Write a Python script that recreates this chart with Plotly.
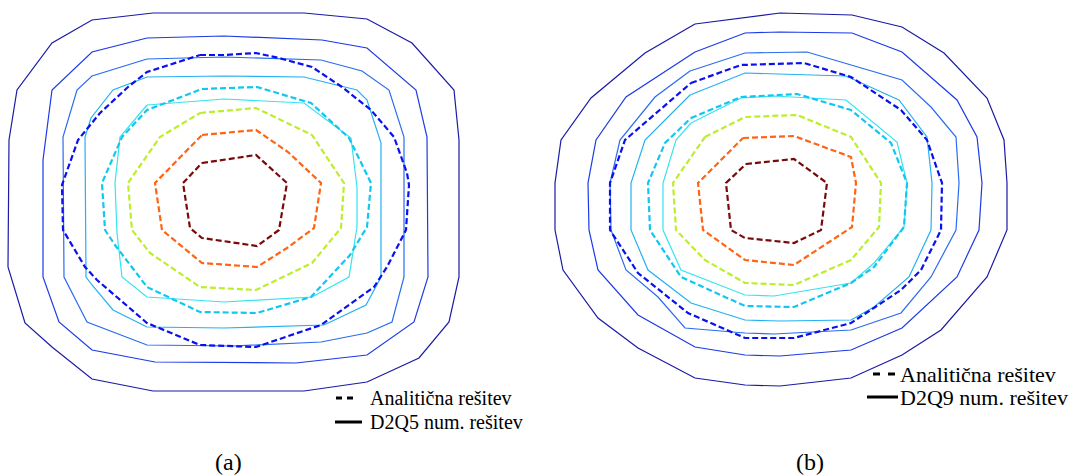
import plotly.graph_objects as go

# ---------------- panel (a): D2Q5 numerical (solid) ----------------
a_num_1 = [(153,13),(304,13),(367,19),(412,43),(454,90),(459,140),(459,277),(449,322),(419,358),(367,382),(304,391),(153,391),(92,379),(52,347),(25,323),(11,277),(8,267),(9,140),(17,90),(52,43),(92,20)]
a_num_2 = [(147,38),(224,36),(322,40),(367,48),(416,90),(427,137),(428,277),(414,322),(367,355),(296,363),(155,362),(92,350),(59,322),(43,277),(43,160),(52,90),(92,52)]
a_num_3 = [(147,59),(224,57),(321,60),(362,71),(389,90),(404,137),(404,277),(392,322),(367,333),(321,342),(233,346),(147,345),(87,322),(64,277),(63,137),(77,90),(92,76)]
a_num_4 = [(147,77),(224,76),(304,77),(357,90),(367,100),(381,143),(381,277),(366,305),(324,325),(224,328),(147,327),(113,310),(92,285),(86,277),(85,137),(91,118),(113,90)]
a_num_5 = [(147,105),(224,99),(304,103),(351,138),(357,187),(357,227),(349,277),(312,297),(224,302),(147,297),(122,277),(117,233),(115,183),(120,137)]

# ---------------- panel (a): analytical (dashed) ----------------
a_ana_1 = [(200,55),(224,55),(256,53),(279,58),(312,67),(342,87),(371,110),(394,137),(407,173),(409,185),(406,230),(387,267),(374,287),(321,325),(256,347),(200,345),(147,323),(97,280),(85,267),(63,230),(62,185),(78,140),(100,113),(128,87),(147,72)]
a_ana_2 = [(202,89),(257,87),(311,103),(349,138),(371,183),(367,227),(350,255),(311,297),(257,313),(200,312),(147,287),(115,245),(105,230),(102,183),(122,137),(147,110)]
a_ana_3 = [(200,113),(256,108),(312,135),(344,183),(341,228),(312,263),(256,290),(200,287),(150,253),(132,230),(128,183),(160,137)]
a_ana_4 = [(202,135),(256,130),(288,152),(321,183),(314,228),(287,248),(257,267),(202,263),(162,230),(155,183)]
a_ana_5 = [(202,163),(256,155),(287,183),(279,230),(257,246),(202,238),(190,228),(183,183)]

# ---------------- panel (b): D2Q9 numerical (solid) ----------------
b_num_1 = [(695,24),(780,13),(852,15),(902,27),(944,53),(987,98),(1004,140),(1007,183),(1007,230),(987,277),(941,330),(902,355),(851,378),(780,386),(745,385),(695,378),(638,348),(598,318),(563,270),(555,230),(555,183),(561,140),(591,98),(645,53)]
b_num_2 = [(695,52),(745,33),(780,32),(852,33),(902,52),(957,100),(977,137),(982,183),(979,230),(957,277),(902,328),(851,350),(780,356),(745,355),(695,347),(638,315),(598,270),(589,230),(588,183),(596,140),(626,97)]
b_num_3 = [(690,71),(745,53),(807,52),(902,80),(931,107),(956,137),(959,183),(956,230),(931,277),(901,313),(851,330),(774,334),(745,333),(685,328),(658,297),(626,270),(611,230),(610,183),(620,140),(655,97)]
b_num_4 = [(690,95),(745,73),(846,76),(899,100),(927,137),(932,183),(931,230),(909,277),(874,307),(851,320),(780,321),(745,320),(691,303),(648,270),(631,230),(631,183),(645,140)]
b_num_5 = [(691,123),(741,98),(774,96),(846,100),(897,142),(907,183),(904,227),(874,263),(851,283),(774,296),(745,295),(681,270),(663,230),(663,183),(676,140)]

# ---------------- panel (b): analytical (dashed) ----------------
b_ana_1 = [(691,83),(741,65),(804,63),(851,77),(901,110),(927,140),(942,183),(941,230),(921,270),(901,290),(851,323),(794,338),(745,338),(688,313),(638,273),(610,230),(610,183),(625,140)]
b_ana_2 = [(691,118),(741,97),(797,94),(851,110),(891,143),(907,183),(904,227),(874,267),(851,283),(794,307),(745,306),(681,277),(650,230),(648,183),(665,143)]
b_ana_3 = [(705,137),(745,117),(797,115),(851,137),(881,183),(879,227),(851,260),(794,285),(745,283),(705,260),(676,230),(673,183)]
b_ana_4 = [(743,138),(794,136),(851,157),(856,183),(852,227),(822,247),(794,265),(745,260),(703,230),(698,183)]
b_ana_5 = [(746,164),(794,159),(827,183),(821,230),(794,243),(745,238),(731,230),(726,183)]

num_colors = ["#1a1aa6", "#1c3ae6", "#2a6cf0", "#24b0f4", "#36e4f0"]
ana_colors = ["#0a10ee", "#12c6f2", "#bcee2c", "#ff6414", "#7a0a0a"]

panel_labels = ["(a)", "(b)"]
legend_analytic = "Analitična rešitev"
legend_numeric = ["D2Q5 num. rešitev", "D2Q9 num. rešitev"]

fig = go.Figure()

def add_poly(pts, color, dashed):
    xs = [p[0] for p in pts] + [pts[0][0]]
    ys = [p[1] for p in pts] + [pts[0][1]]
    fig.add_trace(go.Scatter(
        x=xs, y=ys, mode="lines", hoverinfo="skip", showlegend=False,
        line=dict(color=color, width=2.2 if dashed else 1.2,
                  dash="6px,3px" if dashed else "solid")))

for nums, anas in [([a_num_1, a_num_2, a_num_3, a_num_4, a_num_5],
                    [a_ana_1, a_ana_2, a_ana_3, a_ana_4, a_ana_5]),
                   ([b_num_1, b_num_2, b_num_3, b_num_4, b_num_5],
                    [b_ana_1, b_ana_2, b_ana_3, b_ana_4, b_ana_5])]:
    for pts, c in zip(nums, num_colors):
        add_poly(pts, c, False)
    for pts, c in zip(anas, ana_colors):
        add_poly(pts, c, True)

serif = "Liberation Serif"
ann = []
shapes = []
# legend (a)
shapes.append(dict(type="line", x0=336, x1=354, y0=398, y1=398, xref="x", yref="y",
                   line=dict(color="black", width=3, dash="6px,5px")))
shapes.append(dict(type="line", x0=335, x1=362, y0=422, y1=422, xref="x", yref="y",
                   line=dict(color="black", width=3)))
ann.append(dict(x=368, y=398, text=legend_analytic, xanchor="left", yanchor="middle"))
ann.append(dict(x=368, y=422, text=legend_numeric[0], xanchor="left", yanchor="middle"))
# legend (b)
shapes.append(dict(type="line", x0=873, x1=896, y0=374, y1=374, xref="x", yref="y",
                   line=dict(color="black", width=3, dash="7px,8px")))
shapes.append(dict(type="line", x0=867, x1=898, y0=397, y1=397, xref="x", yref="y",
                   line=dict(color="black", width=3)))
ann_b = [dict(x=898, y=374, text=legend_analytic, xanchor="left", yanchor="middle"),
         dict(x=898, y=397, text=legend_numeric[1], xanchor="left", yanchor="middle")]

annotations = []
for a in ann:
    a.update(xref="x", yref="y", showarrow=False, font=dict(family=serif, size=20, color="black"))
    annotations.append(a)
for a in ann_b:
    a.update(xref="x", yref="y", showarrow=False, font=dict(family=serif, size=22, color="black"))
    annotations.append(a)
for lab, xc in zip(panel_labels, [228, 810]):
    annotations.append(dict(x=xc, y=462, text=lab, xref="x", yref="y", showarrow=False,
                            xanchor="center", yanchor="middle",
                            font=dict(family=serif, size=24, color="black")))

fig.update_layout(
    width=1073, height=475, margin=dict(l=0, r=0, t=0, b=0),
    paper_bgcolor="white", plot_bgcolor="white",
    font=dict(family=serif),
    xaxis=dict(range=[0, 1073], visible=False, fixedrange=True),
    yaxis=dict(range=[475, 0], visible=False, fixedrange=True),
    shapes=shapes, annotations=annotations, showlegend=False,
)
fig.write_html("out.html", config={"displayModeBar": False},
               post_script="document.body.style.margin='0';document.body.style.overflow='hidden';")
